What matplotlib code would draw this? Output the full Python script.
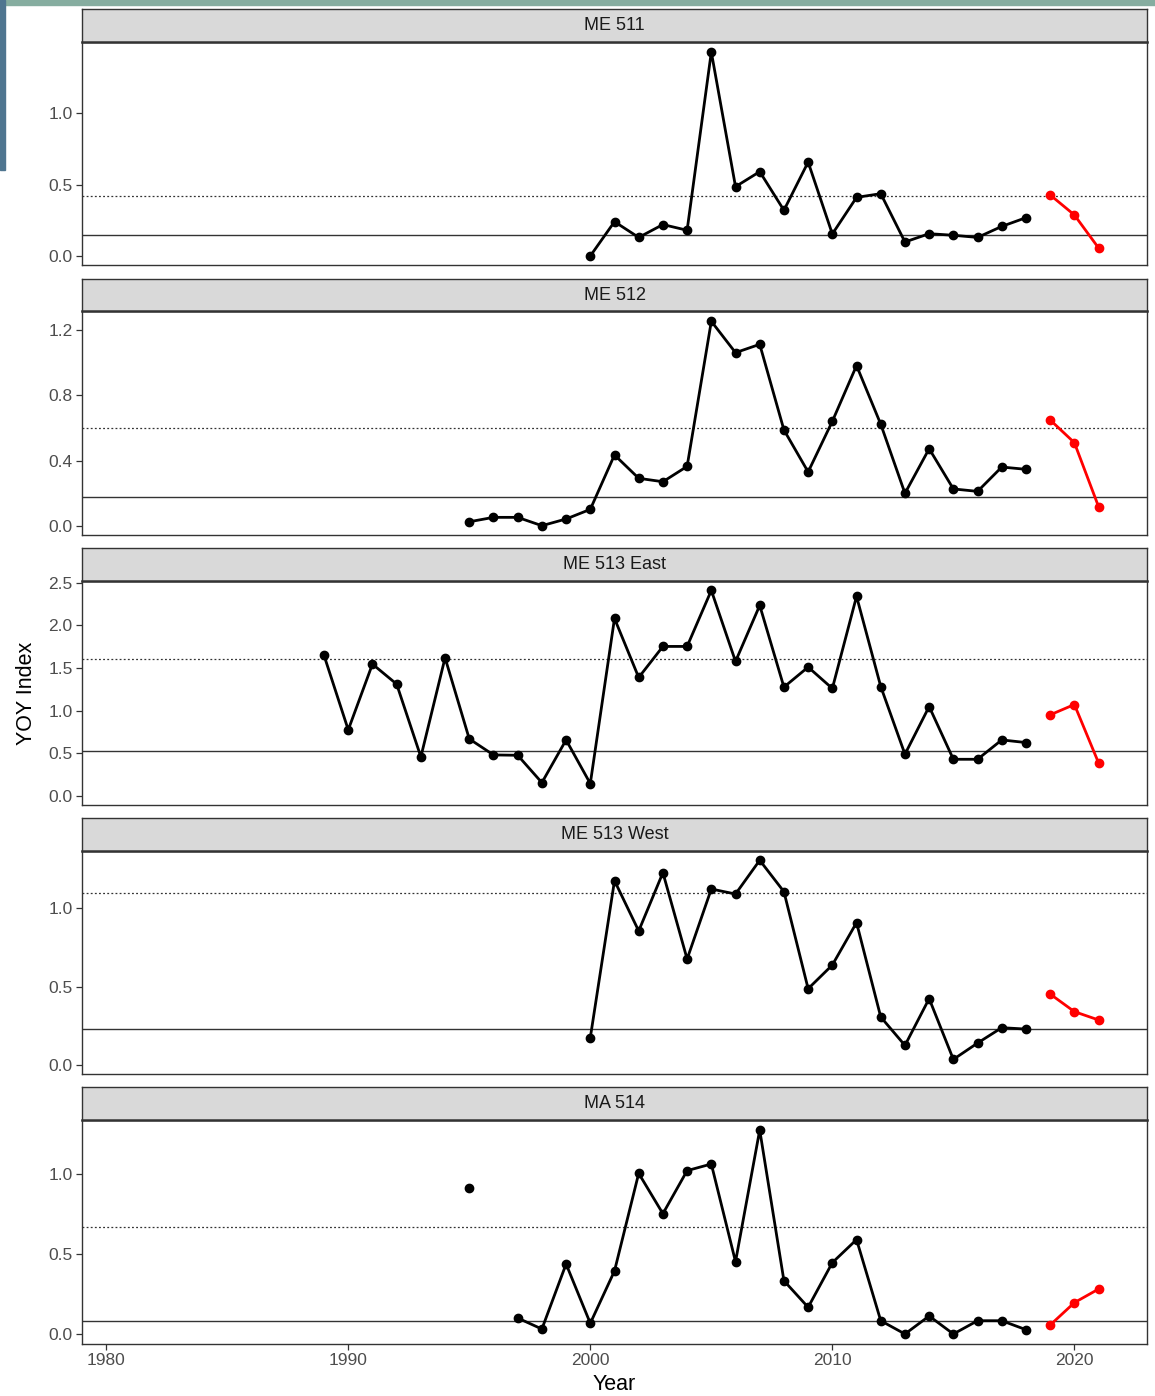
import matplotlib.pyplot as plt
import numpy as np
from matplotlib.patches import Rectangle

plt.rcParams['font.family'] = ['Liberation Sans', 'DejaVu Sans']

W, H = 1155, 1396

panels = ["ME 511", "ME 512", "ME 513 East", "ME 513 West", "MA 514"]

# survey index by year (black = through 2018, red = 2019-2021)
years_511 = list(range(2000, 2019))
yoy_511 = [0.0, 0.24, 0.13, 0.22, 0.18, 1.427, 0.485, 0.59, 0.32, 0.657,
           0.154, 0.41, 0.436, 0.098, 0.156, 0.145, 0.13, 0.207, 0.268]
years_512 = list(range(1995, 2019))
yoy_512 = [0.026, 0.053, 0.053, 0.002, 0.043, 0.102, 0.435, 0.292, 0.271, 0.365,
           1.253, 1.061, 1.112, 0.588, 0.331, 0.641, 0.982, 0.623, 0.20, 0.473,
           0.227, 0.212, 0.361, 0.347]
years_513e = list(range(1989, 2019))
yoy_513e = [1.647, 0.775, 1.546, 1.311, 0.458, 1.62, 0.669, 0.481, 0.477, 0.156,
            0.657, 0.145, 2.081, 1.389, 1.753, 1.753, 2.41, 1.577, 2.234, 1.276,
            1.511, 1.26, 2.34, 1.283, 0.489, 1.048, 0.43, 0.43, 0.657, 0.626]
years_513w = list(range(2000, 2019))
yoy_513w = [0.174, 1.174, 0.854, 1.225, 0.675, 1.121, 1.089, 1.304, 1.104, 0.486,
            0.637, 0.907, 0.306, 0.125, 0.423, 0.036, 0.14, 0.238, 0.229]
years_514 = list(range(1995, 2019))
yoy_514 = [0.9125, np.nan, 0.10, 0.031, 0.4375, 0.067, 0.394, 1.004, 0.752, 1.021,
           1.0625, 0.452, 1.275, 0.333, 0.167, 0.446, 0.59, 0.083, 0.0, 0.1125,
           0.0, 0.083, 0.083, 0.027]

recent_years = [2019, 2020, 2021]
recent_511 = [0.427, 0.287, 0.056]
recent_512 = [0.649, 0.51, 0.118]
recent_513e = [0.951, 1.072, 0.387]
recent_513w = [0.452, 0.34, 0.287]
recent_514 = [0.056, 0.196, 0.281]

# reference levels: dotted (upper) and solid (lower)
upper_ref = [0.42, 0.602, 1.608, 1.098, 0.669]
lower_ref = [0.149, 0.178, 0.524, 0.231, 0.083]

series_years = [years_511, years_512, years_513e, years_513w, years_514]
series_vals = [yoy_511, yoy_512, yoy_513e, yoy_513w, yoy_514]
series_recent = [recent_511, recent_512, recent_513e, recent_513w, recent_514]

y_limits = [(-0.063, 1.497), (-0.055, 1.316), (-0.106, 2.52), (-0.057, 1.363), (-0.0625, 1.3375)]
y_ticks = [[0.0, 0.5, 1.0], [0.0, 0.4, 0.8, 1.2], [0.0, 0.5, 1.0, 1.5, 2.0, 2.5],
           [0.0, 0.5, 1.0], [0.0, 0.5, 1.0]]
x_ticks = [1980, 1990, 2000, 2010, 2020]

# pixel layout (strip top, panel top, panel bottom)
rows = [(9, 42, 265), (279, 311, 535), (548, 581, 805), (818, 851, 1074), (1087, 1120, 1344)]
left_px, right_px = 82, 1147

edge = '#333333'

fig = plt.figure(figsize=(W / 100, H / 100), dpi=100)

# slide background bits
fig.patches.append(Rectangle((0, 1 - 5 / H), 1, 5 / H, transform=fig.transFigure,
                             color='#86ADA0', zorder=0))
fig.patches.append(Rectangle((0, 1 - 170 / H), 5 / W, 170 / H, transform=fig.transFigure,
                             color='#4F7590', zorder=0))

for i, name in enumerate(panels):
    s_top, p_top, p_bot = rows[i]
    ax = fig.add_axes([left_px / W, 1 - p_bot / H, (right_px - left_px) / W, (p_bot - p_top) / H])
    sx = fig.add_axes([left_px / W, 1 - p_top / H, (right_px - left_px) / W, (p_top - s_top) / H])

    ax.axhline(upper_ref[i], color='#333333', lw=0.9, ls=(0, (1.5, 1.8)), zorder=1)
    ax.axhline(lower_ref[i], color='#333333', lw=1.0, zorder=1)
    ax.plot(series_years[i], series_vals[i], color='black', lw=2.0, marker='o',
            ms=6, zorder=3)
    ax.plot(recent_years, series_recent[i], color='#FF0000', lw=2.0, marker='o',
            ms=6, zorder=3)

    ax.set_xlim(1979.0, 2023.0)
    ax.set_ylim(*y_limits[i])
    ax.set_yticks(y_ticks[i])
    ax.set_yticklabels([f"{t:.1f}" for t in y_ticks[i]])
    ax.set_xticks(x_ticks)
    for sp in ax.spines.values():
        sp.set_color(edge)
        sp.set_linewidth(1.0)
    ax.tick_params(direction='out', length=4.3, width=0.9, color=edge,
                   labelsize=12.5, labelcolor='#4D4D4D', pad=2.5)
    if i < len(panels) - 1:
        ax.tick_params(axis='x', length=0, labelbottom=False)

    sx.set_facecolor('#D9D9D9')
    sx.set_xticks([])
    sx.set_yticks([])
    for sp in sx.spines.values():
        sp.set_color(edge)
        sp.set_linewidth(1.0)
    sx.spines['bottom'].set_linewidth(1.8)
    sx.text(0.5, 0.5, name, ha='center', va='center', fontsize=13,
            color='#1A1A1A', transform=sx.transAxes)

fig.text(26 / W, 1 - 693 / H, "YOY Index", rotation=90, ha='center', va='center',
         fontsize=15.5, color='black')
fig.text(614 / W, 1 - 1384 / H, "Year", ha='center', va='center', fontsize=15.5,
         color='black')

fig.savefig("out.png", dpi=100)
